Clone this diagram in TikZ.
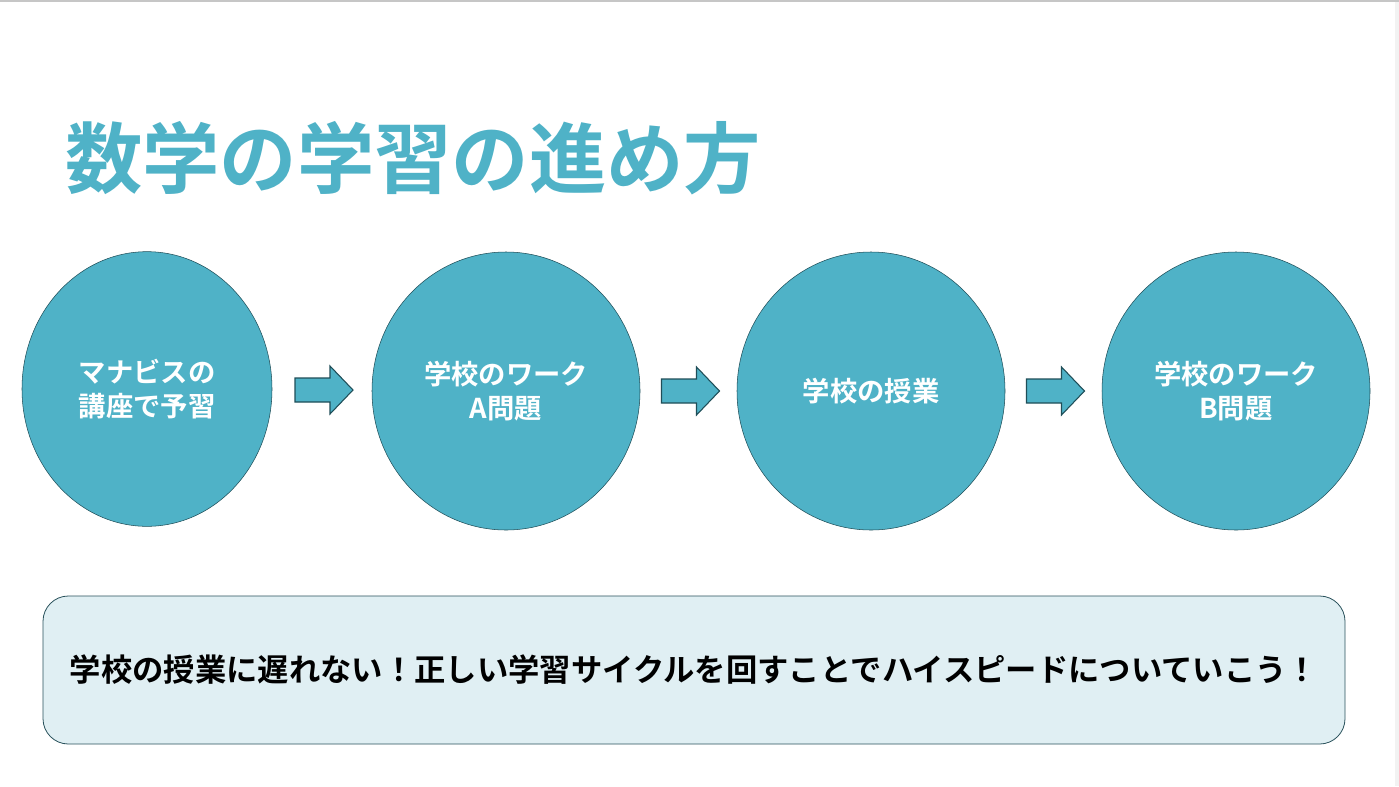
\documentclass[tikz,border=0pt]{standalone}
\usepackage{fontspec}
\newfontfamily\jpbold{Noto Sans CJK JP Bold}
\usetikzlibrary{shapes.geometric,calc}
\definecolor{teal1}{HTML}{4FB2C7}
\definecolor{teal2}{HTML}{1F4E58}
\definecolor{boxfill}{HTML}{E0EFF3}
\definecolor{boxline}{HTML}{2A525C}
\tikzset{
 step circle/.style={ellipse,draw=teal2,fill=teal1,thin,inner sep=0pt,
  text=white,align=center,font=\jpbold\fontsize{20.5}{25}\selectfont},
 blockarrow/.style={draw=teal2,fill=teal1,line width=0.8pt,line join=miter},
}
\begin{document}
\begin{tikzpicture}[x=0.75pt,y=-0.75pt]
 \useasboundingbox (0,0) rectangle (1399,786);
 \fill[white] (0,0) rectangle (1399,786);
 \fill[gray!10] (1395,0) rectangle (1399,786);
 \draw[gray!45,line width=1.5pt] (0,0.8) -- (1399,0.8);
 % title
 \node[anchor=west,inner sep=0pt,text=teal1,font=\jpbold\fontsize{58}{60}\selectfont] (title) at (65,158) {数学の学習の進め方};
 % circles
 \node[step circle,minimum width=187.5pt,minimum height=206pt] (c1) at (147,389) {マナビスの\\講座で予習};
 \node[step circle,minimum width=201pt,minimum height=208.5pt] (c2) at (506,391) {学校のワーク\\A問題};
 \node[step circle,minimum width=201pt,minimum height=208.5pt] (c3) at (871,391) {学校の授業};
 \node[step circle,minimum width=201pt,minimum height=208.5pt] (c4) at (1236,391) {学校のワーク\\B問題};
 % arrows
 \foreach \a/\b [count=\i] in {c1/c2,c2/c3,c3/c4}{
  \coordinate (m\i) at ($(\a.east)!0.5!(\b.west)+(2,0)$);
  \draw[blockarrow] ($(m\i)+(-29,-12)$) -- ++(35,0) -- ++(0,-12) -- ++(23,24)
   -- ++(-23,24) -- ++(0,-12) -- ++(-35,0) -- cycle;
 }
 % message box
 \node[draw=boxline,fill=boxfill,line width=0.6pt,rounded corners=19pt,minimum width=976.5pt,
  minimum height=111pt,inner sep=0pt,font=\jpbold\fontsize{23.5}{26}\selectfont] (msg) at (694,670)
  {学校の授業に遅れない！正しい学習サイクルを回すことでハイスピードについていこう！};
\end{tikzpicture}
\end{document}
